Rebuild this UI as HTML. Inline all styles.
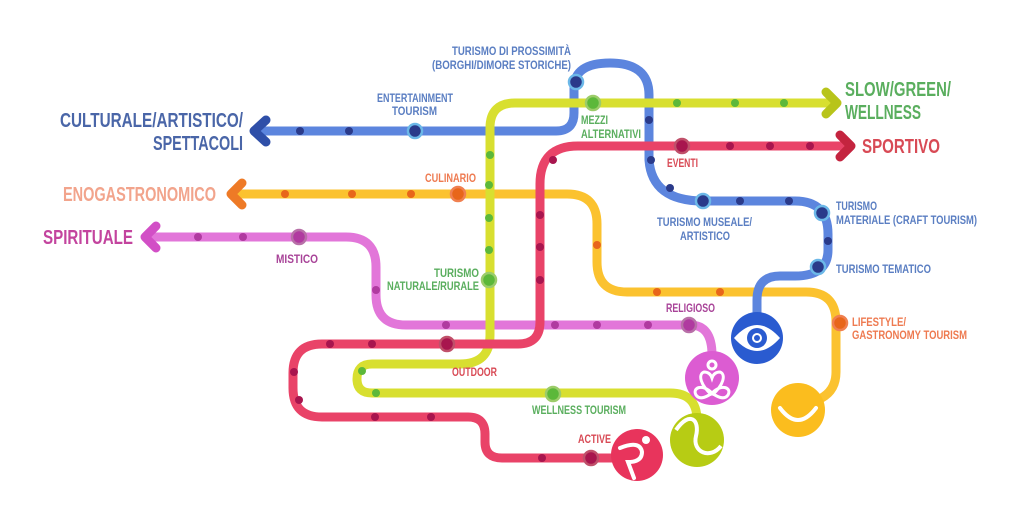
<!DOCTYPE html>
<html><head><meta charset="utf-8"><style>
html,body{margin:0;padding:0;background:#fff;}
svg{display:block;}
text{font-family:"Liberation Sans",sans-serif;font-weight:bold;}
.s{font-size:11.5px;}
.b{font-size:20px;}
</style></head><body>
<svg width="1024" height="528" viewBox="0 0 1024 528" xmlns="http://www.w3.org/2000/svg">
<g fill="none" stroke-width="9" stroke-linecap="round" stroke-linejoin="round" opacity="0.92">
<path d="M236 194 H567 Q597 194 597 224 V262 Q597 292 627 292 H806 Q836 292 836 322 V372 Q836 395 812 402" stroke="#fbbd1e"/>
<path d="M150 237 H346 Q376 237 376 267 V295 Q376 325 406 325 H690 Q712 325 712 355" stroke="#e06bd6"/>
<path d="M258 131 H556 Q574 131 574 113 V88 Q574 63 610 63 Q649 63 649 95 V160 Q652 201 703 201 H795 Q828 201 828 234 V250 Q828 276 795 276 H780 Q757 276 757 300 V320" stroke="#4f7bdc"/>
<path d="M832 103 H515 Q490 103 490 128 V335 Q490 364 460 364 H372 Q357 364 357 379 Q357 393 372 393 H670 Q697 393 697 420" stroke="#d5dd1f"/>
<path d="M846 146 H578 Q540 146 540 184 V322 Q540 344 518 344 H322 Q293 344 293 373 V388 Q293 417 322 417 H468 Q485 417 485 434 V442 Q485 458 502 458 H620" stroke="#e8345c"/>
</g>
<g fill="none" stroke-width="9" stroke-linecap="round" stroke-linejoin="round">
<path d="M266 120 L254 131 L266 142" stroke="#2f4fa8"/>
<path d="M242 183 L231 194 L242 205" stroke="#ee7a26"/>
<path d="M156 226 L145 237 L156 248" stroke="#d24fc6"/>
<path d="M826 92 L837 103 L826 114" stroke="#b8c41a"/>
<path d="M840 135 L851 146 L840 157" stroke="#c4243f"/>
</g>
<g fill="#2a3a8a">
<circle cx="300" cy="131" r="4"/><circle cx="349" cy="131" r="4"/><circle cx="649" cy="120" r="4"/><circle cx="651" cy="160" r="4"/><circle cx="670" cy="188" r="4"/><circle cx="740" cy="201" r="4"/><circle cx="789" cy="201" r="4"/><circle cx="828" cy="241" r="4"/>
</g>
<g fill="#5cb83a">
<circle cx="677" cy="103" r="4"/><circle cx="735" cy="103" r="4"/><circle cx="784" cy="103" r="4"/><circle cx="490" cy="155" r="4"/><circle cx="489" cy="185" r="4"/><circle cx="489" cy="218" r="4"/><circle cx="489" cy="250" r="4"/><circle cx="362" cy="371" r="4"/><circle cx="376" cy="393" r="4"/>
</g>
<g fill="#a8154e">
<circle cx="730" cy="146" r="4"/><circle cx="770" cy="146" r="4"/><circle cx="810" cy="146" r="4"/><circle cx="553" cy="160" r="4"/><circle cx="540" cy="215" r="4"/><circle cx="540" cy="247" r="4"/><circle cx="540" cy="280" r="4"/><circle cx="330" cy="344" r="4"/><circle cx="372" cy="344" r="4"/><circle cx="294" cy="372" r="4"/><circle cx="299" cy="400" r="4"/><circle cx="375" cy="417" r="4"/><circle cx="431" cy="417" r="4"/><circle cx="542" cy="458" r="4"/>
</g>
<g fill="#e8661a">
<circle cx="285" cy="194" r="4"/><circle cx="352" cy="194" r="4"/><circle cx="411" cy="194" r="4"/><circle cx="597" cy="245" r="4"/><circle cx="657" cy="292" r="4"/><circle cx="720" cy="292" r="4"/>
</g>
<g fill="#b03aa0">
<circle cx="198" cy="237" r="4"/><circle cx="243" cy="237" r="4"/><circle cx="376" cy="290" r="4"/><circle cx="446" cy="325" r="4"/><circle cx="555" cy="325" r="4"/><circle cx="597" cy="325" r="4"/><circle cx="648" cy="325" r="4"/>
</g>
<g stroke-width="2.5" fill="none">
<circle cx="415" cy="131" r="7" stroke="#6cb8e8" fill="#2a3a8a"/>
<circle cx="576" cy="82" r="7" stroke="#6cb8e8" fill="#2a3a8a"/>
<circle cx="703" cy="201" r="7" stroke="#6cb8e8" fill="#2a3a8a"/>
<circle cx="822" cy="213" r="7" stroke="#6cb8e8" fill="#2a3a8a"/>
<circle cx="818" cy="267" r="7" stroke="#6cb8e8" fill="#2a3a8a"/>
<circle cx="593" cy="103" r="7" stroke="#9ccc6a" fill="#5cb83a"/>
<circle cx="489" cy="280" r="7" stroke="#9ccc6a" fill="#5cb83a"/>
<circle cx="553" cy="394" r="7" stroke="#9ccc6a" fill="#5cb83a"/>
<circle cx="682" cy="146" r="7" stroke="#c0506a" fill="#a8154e"/>
<circle cx="447" cy="344" r="7" stroke="#c0506a" fill="#a8154e"/>
<circle cx="591" cy="458" r="7" stroke="#c0506a" fill="#a8154e"/>
<circle cx="458" cy="194" r="7" stroke="#f08050" fill="#e8661a"/>
<circle cx="840" cy="323" r="7" stroke="#f08050" fill="#e8661a"/>
<circle cx="299" cy="237" r="7" stroke="#b870a8" fill="#b03aa0"/>
<circle cx="689" cy="325" r="7" stroke="#b870a8" fill="#b03aa0"/>
</g>
<circle cx="757" cy="338" r="26" fill="#2a5bd0"/>
<path d="M734 338 Q757 312 780 338 Q757 364 734 338 Z" fill="#fff"/>
<circle cx="757" cy="338" r="10" fill="#2a5bd0"/><circle cx="757" cy="338" r="5" fill="#fff"/><circle cx="757" cy="338" r="3" fill="#2a5bd0"/>
<circle cx="712" cy="378" r="27" fill="#dc5cd2"/>
<g fill="none" stroke="#fff" stroke-width="3"><circle cx="712" cy="365" r="4"/><path d="M712 395 C700 385 698 374 704 372 Q710 372 712 378 Q714 372 720 372 C726 374 724 385 712 395"/><path d="M712 393 C702 383 692 388 696 395 C700 401 708 396 712 393 C716 396 724 401 728 395 C732 388 722 383 712 393"/></g>
<circle cx="798" cy="410" r="27" fill="#fbbd1e"/>
<path d="M780 408 Q798 432 816 408" stroke="#fff" stroke-width="4" fill="none" stroke-linecap="round"/>
<circle cx="697" cy="440" r="27" fill="#b7cc14"/>
<path d="M676 430 C690 410 700 420 696 436 C692 452 710 460 721 446" stroke="#fff" stroke-width="4" fill="none"/>
<circle cx="637" cy="455" r="26" fill="#e8345c"/>
<circle cx="646" cy="440" r="4" fill="#fff"/>
<path d="M620 448 Q640 440 642 452 Q642 462 628 462 L634 478" stroke="#fff" stroke-width="4" fill="none" stroke-linecap="round"/>
<g class="b">
<text x="60" y="127" textLength="183" lengthAdjust="spacingAndGlyphs" fill="#4a66a8">CULTURALE/ARTISTICO/</text>
<text x="153" y="150" textLength="90" lengthAdjust="spacingAndGlyphs" fill="#4a66a8">SPETTACOLI</text>
<text x="63" y="201" textLength="153" lengthAdjust="spacingAndGlyphs" fill="#f2a48c">ENOGASTRONOMICO</text>
<text x="43" y="244" textLength="90" lengthAdjust="spacingAndGlyphs" fill="#c3449e">SPIRITUALE</text>
<text x="845" y="96" textLength="106" lengthAdjust="spacingAndGlyphs" fill="#5aae5e">SLOW/GREEN/</text>
<text x="845" y="119" textLength="76" lengthAdjust="spacingAndGlyphs" fill="#5aae5e">WELLNESS</text>
<text x="862" y="153" textLength="78" lengthAdjust="spacingAndGlyphs" fill="#d84a55">SPORTIVO</text>
</g>
<g class="s" fill="#5a7ec2">
<text x="452" y="55" textLength="119" lengthAdjust="spacingAndGlyphs">TURISMO DI PROSSIMITÀ</text>
<text x="432" y="69" textLength="139" lengthAdjust="spacingAndGlyphs">(BORGHI/DIMORE STORICHE)</text>
<text x="377" y="102" textLength="76" lengthAdjust="spacingAndGlyphs">ENTERTAINMENT</text>
<text x="392" y="115" textLength="45" lengthAdjust="spacingAndGlyphs">TOURISM</text>
<text x="657" y="226" textLength="95" lengthAdjust="spacingAndGlyphs">TURISMO MUSEALE/</text>
<text x="680" y="240" textLength="50" lengthAdjust="spacingAndGlyphs">ARTISTICO</text>
<text x="836" y="210" textLength="41" lengthAdjust="spacingAndGlyphs">TURISMO</text>
<text x="836" y="224" textLength="141" lengthAdjust="spacingAndGlyphs">MATERIALE (CRAFT TOURISM)</text>
<text x="836" y="273" textLength="95" lengthAdjust="spacingAndGlyphs">TURISMO TEMATICO</text>
</g>
<g class="s" fill="#5aae5e">
<text x="581" y="124" textLength="27" lengthAdjust="spacingAndGlyphs">MEZZI</text>
<text x="581" y="138" textLength="60" lengthAdjust="spacingAndGlyphs">ALTERNATIVI</text>
<text x="434" y="277" textLength="45" lengthAdjust="spacingAndGlyphs">TURISMO</text>
<text x="387" y="290" textLength="92" lengthAdjust="spacingAndGlyphs">NATURALE/RURALE</text>
<text x="532" y="414" textLength="94" lengthAdjust="spacingAndGlyphs">WELLNESS TOURISM</text>
</g>
<g class="s" fill="#d84a55">
<text x="667" y="167" textLength="31" lengthAdjust="spacingAndGlyphs">EVENTI</text>
<text x="452" y="376" textLength="45" lengthAdjust="spacingAndGlyphs">OUTDOOR</text>
<text x="578" y="443" textLength="33" lengthAdjust="spacingAndGlyphs">ACTIVE</text>
</g>
<g class="s" fill="#ee7a50">
<text x="425" y="182" textLength="51" lengthAdjust="spacingAndGlyphs">CULINARIO</text>
<text x="852" y="326" textLength="54" lengthAdjust="spacingAndGlyphs">LIFESTYLE/</text>
<text x="852" y="339" textLength="115" lengthAdjust="spacingAndGlyphs">GASTRONOMY TOURISM</text>
</g>
<g class="s" fill="#a84398">
<text x="276" y="263" textLength="42" lengthAdjust="spacingAndGlyphs">MISTICO</text>
<text x="666" y="312" textLength="49" lengthAdjust="spacingAndGlyphs">RELIGIOSO</text>
</g>
</svg>
</body></html>
